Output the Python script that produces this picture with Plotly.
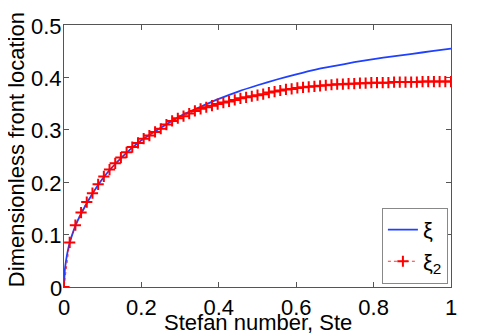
import numpy as np
import plotly.graph_objects as go

# Stefan number grid used for the numerical solution (markers)
ste_num = np.linspace(0, 1, 69)
xi2 = [0, 0.085, 0.118, 0.142, 0.162, 0.179, 0.196, 0.211, 0.224, 0.236,
       0.247, 0.257, 0.267, 0.275, 0.283, 0.289, 0.296, 0.302, 0.310, 0.317,
       0.322, 0.326, 0.331, 0.336, 0.340, 0.343, 0.346, 0.349, 0.352, 0.354,
       0.357, 0.360, 0.362, 0.364, 0.366, 0.368, 0.371, 0.373, 0.375, 0.377,
       0.378, 0.380, 0.381, 0.382, 0.383, 0.384, 0.385, 0.386, 0.387, 0.387,
       0.388, 0.388, 0.389, 0.389, 0.390, 0.390, 0.390, 0.390, 0.391, 0.391,
       0.391, 0.391, 0.391, 0.392, 0.392, 0.392, 0.392, 0.392, 0.392]

# analytical front location (blue line)
ste_an = [0, 0.002, 0.005, 0.01, 0.015, 0.025, 0.035, 0.05, 0.075, 0.1,
          0.125, 0.15, 0.175, 0.2, 0.25, 0.3, 0.35, 0.4, 0.45, 0.5,
          0.55, 0.6, 0.65, 0.7, 0.75, 0.8, 0.85, 0.9, 0.95, 1.0]
xi = [0, 0.031, 0.049, 0.070, 0.085, 0.108, 0.126, 0.148, 0.180, 0.207,
      0.229, 0.248, 0.265, 0.280, 0.304, 0.326, 0.343, 0.359, 0.373, 0.385,
      0.396, 0.406, 0.415, 0.422, 0.429, 0.435, 0.440, 0.445, 0.450, 0.455]

x_ticks = [0, 0.2, 0.4, 0.6, 0.8, 1]
x_labels = ['0', '0.2', '0.4', '0.6', '0.8', '1']
y_ticks = [0, 0.1, 0.2, 0.3, 0.4, 0.5]
y_labels = ['0', '0.1', '0.2', '0.3', '0.4', '0.5']

font = "Liberation Sans, Arial, Helvetica, sans-serif"

fig = go.Figure()

fig.add_trace(go.Scatter(
    x=ste_an, y=xi, mode='lines', name='ξ',
    line=dict(color='#2040FF', width=1.8, shape='spline', smoothing=0.6),
))

fig.add_trace(go.Scatter(
    x=ste_num, y=xi2, mode='lines+markers', name='ξ<sub>2</sub>',
    line=dict(color='red', width=0.8, dash='dot'),
    marker=dict(symbol='cross-thin', size=8, line=dict(color='red', width=2)),
))

axis_style = dict(
    showline=True, mirror='ticks', linecolor='#555555', linewidth=1,
    ticks='inside', ticklen=5, tickcolor='#555555',
    showgrid=False, zeroline=False, automargin=False,
    tickfont=dict(family=font, size=22, color='black'),
)

# the page body adds an 8px offset, so margins are shifted up/left by 8px
fig.update_layout(
    width=498, height=335,
    margin=dict(l=56, r=55, t=17, b=56),
    paper_bgcolor='white', plot_bgcolor='white',
    font=dict(family=font, size=22, color='black'),
    xaxis=dict(range=[0, 1], tickvals=x_ticks, ticktext=x_labels,
               ticklabelstandoff=1, **axis_style),
    yaxis=dict(range=[0, 0.5], tickvals=y_ticks, showticklabels=False,
               **axis_style),
    legend=dict(x=0.992, y=0.012, xanchor='right', yanchor='bottom',
                bgcolor='white', bordercolor='#888888', borderwidth=1,
                font=dict(family=font, size=22), itemwidth=30,
                tracegroupgap=0),
    showlegend=True,
)

# y tick labels sit right against the axis in the original (MATLAB style)
for v, lab in zip(y_ticks, y_labels):
    fig.add_annotation(text=lab, xref='paper', yref='y', x=-0.003, y=v,
                       xanchor='right', yanchor='middle', yshift=-1,
                       showarrow=False, borderpad=0,
                       font=dict(family=font, size=22))

# axis titles placed by hand to match the original spacing
fig.add_annotation(text='Stefan number, Ste', xref='paper', yref='paper',
                   x=0.5, y=-0.082, xanchor='center', yanchor='top',
                   showarrow=False, font=dict(family=font, size=22))
fig.add_annotation(text='Dimensionless front location', xref='paper', yref='paper',
                   x=-0.121, y=0.523, xanchor='center', yanchor='middle', textangle=-90,
                   showarrow=False, font=dict(family=font, size=22))

fig.write_html("out.html")
